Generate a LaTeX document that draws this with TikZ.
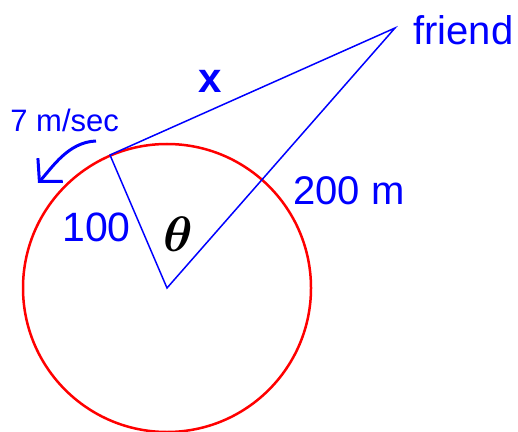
\documentclass[tikz,border=0pt]{standalone}
\usepackage{amsmath}
\usepackage{fontspec}
\setmainfont{Liberation Sans}
\usetikzlibrary{arrows.meta}

\begin{document}
\begin{tikzpicture}[
  x=0.5pt, y=-0.5pt,
  lbl/.style={text=blue, inner sep=0pt, anchor=base west},
  leg/.style={blue, line width=0.75pt},
  >={Straight Barb[length=8pt,width=17pt]}
]
\useasboundingbox (0,0) rectangle (518,432);
\coordinate (centre) at (167,288);
\coordinate (you) at (110,155);
\coordinate (friendpt) at (395,28);
\coordinate (arrS) at (96,141);
\coordinate (arrE) at (38,183);

\draw[red, line width=1.25pt] (centre) circle[radius=144];
\draw[leg] (centre) -- (you) -- (friendpt) -- cycle;
\draw[blue, line width=1.5pt, ->] (arrS) .. controls (68,142) and (52,168) .. (arrE);

\node[lbl, font=\fontsize{20}{24}\selectfont] (friend) at (413,45) {friend};
\node[lbl, font=\fontsize{21}{25}\selectfont\bfseries, anchor=base] (xlbl) at (210,93) {x};
\node[lbl, font=\fontsize{15.5}{19}\selectfont] (speed) at (10,132) {7 m/sec};
\node[lbl, font=\fontsize{20.5}{25}\selectfont] (radius) at (62,242) {100};
\node[lbl, font=\fontsize{20}{24}\selectfont] (dist) at (293,205) {200 m};
\node[inner sep=0pt, font=\fontsize{25}{30}\selectfont] (theta) at (178,234) {$\boldsymbol{\theta}$};
\end{tikzpicture}
\end{document}
